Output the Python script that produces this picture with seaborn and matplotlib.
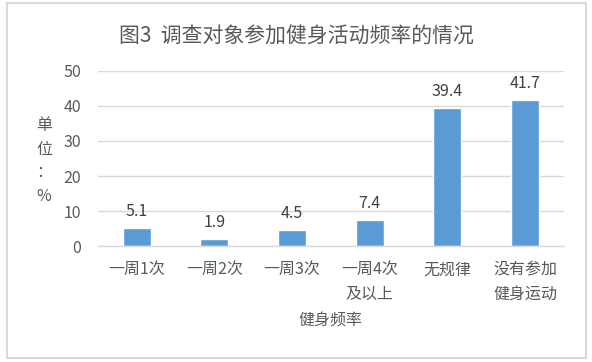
import seaborn as sns
import matplotlib.pyplot as plt
import numpy as np
import pandas as pd
from matplotlib.patches import Rectangle

# data
categories = ['一周1次', '一周2次', '一周3次', '一周4次\n及以上', '无规律', '没有参加\n健身运动']
values = [5.1, 1.9, 4.5, 7.4, 39.4, 41.7]
yticks = [0, 10, 20, 30, 40, 50]

sns.set_style('white')
plt.rcParams['font.family'] = ['Noto Sans CJK SC', 'DejaVu Sans']

df = pd.DataFrame({'freq': categories, 'pct': values})

fig = plt.figure(figsize=(5.92, 3.62), dpi=100)
ax = fig.add_axes([0.1655, 0.3204, 0.787, 0.4835])

sns.barplot(data=df, x='freq', y='pct', color='#5B9BD5', saturation=1,
            width=0.36, ax=ax)

ax.set_ylim(0, 50)
ax.set_xlim(-0.5, len(categories) - 0.5)
ax.set_yticks(yticks)
ax.yaxis.grid(True, color='#D9D9D9', linewidth=1)
ax.set_axisbelow(True)
for s in ['top', 'right', 'left']:
    ax.spines[s].set_visible(False)
ax.spines['bottom'].set_color('#D9D9D9')
ax.spines['bottom'].set_linewidth(1)

ax.set_xticks(np.arange(-0.5, len(categories), 1), minor=True)
ax.tick_params(axis='x', which='major', length=0, pad=11, labelsize=11.5, labelcolor='#595959')
ax.tick_params(axis='x', which='minor', length=5, color='#D9D9D9', width=1)
ax.tick_params(axis='y', length=0, pad=12, labelsize=11.5, labelcolor='#595959')
for lbl in ax.get_xticklabels():
    lbl.set_linespacing(1.55)

for i, v in enumerate(values):
    ax.annotate(f'{v}', (i, v), xytext=(0, 6), textcoords='offset points',
                ha='center', va='bottom', fontsize=11.5, color='#404040')

ax.set_xlabel('健身频率', fontsize=11.5, color='#595959', labelpad=7)
ax.set_ylabel('')
fig.text(44 / 592, 1 - 161 / 362, '单\n位\n：\n%', ha='center', va='center',
         fontsize=11.5, color='#595959', linespacing=1.5)

fig.text(0.5, 1 - 37 / 362, '图3  调查对象参加健身活动频率的情况', ha='center', va='center',
         fontsize=15, color='#595959')

# light frame around the chart
fig.patches.append(Rectangle((7 / 592, 4 / 362), 579 / 592, 355 / 362,
                             transform=fig.transFigure, fill=False,
                             edgecolor='#D9D9D9', linewidth=1.5))

fig.savefig('out.png', dpi=100)
